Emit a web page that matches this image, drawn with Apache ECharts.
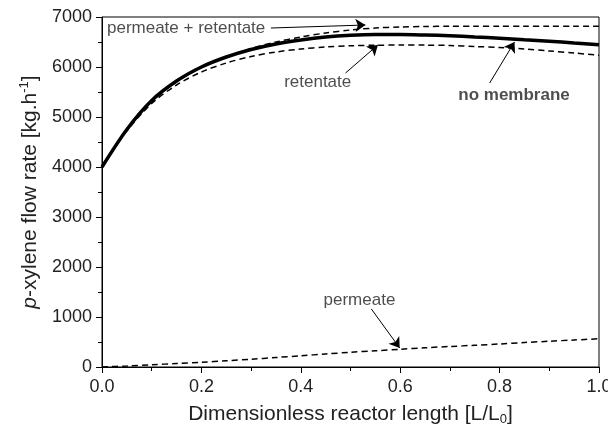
<!DOCTYPE html>
<html>
<head>
<meta charset="utf-8">
<script src="https://cdn.jsdelivr.net/npm/echarts@6/dist/echarts.min.js"></script>
<style>html,body{margin:0;padding:0;background:#fff}#c{width:608px;height:424px}</style>
</head>
<body>
<div id="c"></div>
<script>
var xs = [0, 0.05, 0.1, 0.15, 0.2, 0.25, 0.3, 0.35, 0.4, 0.45, 0.5, 0.55, 0.6, 0.65, 0.7, 0.75, 0.8, 0.85, 0.9, 0.95, 1.0];
var noMembrane = [4000, 4750, 5330, 5720, 6000, 6200, 6350, 6460, 6540, 6600, 6635, 6650, 6650, 6640, 6625, 6600, 6575, 6545, 6515, 6480, 6445];
var permRet = [4000, 4740, 5310, 5700, 5990, 6200, 6370, 6500, 6600, 6680, 6740, 6780, 6800, 6810, 6815, 6815, 6815, 6815, 6815, 6815, 6815];
var retentate = [4000, 4720, 5270, 5640, 5900, 6080, 6210, 6300, 6360, 6400, 6425, 6435, 6440, 6438, 6430, 6410, 6390, 6360, 6320, 6280, 6235];
var permeate = [0, 20, 45, 70, 95, 125, 155, 190, 225, 260, 295, 325, 355, 385, 410, 435, 460, 490, 515, 540, 565];
var xTicks = ['0.0', '0.2', '0.4', '0.6', '0.8', '1.0'];
var yTicks = ['0', '1000', '2000', '3000', '4000', '5000', '6000', '7000'];

var labels = [
  {name: 'permeate + retentate', x: 0.01, y: 6780, align: 'left', bold: false},
  {name: 'retentate', x: 0.434, y: 5700, align: 'center', bold: false},
  {name: 'no membrane', x: 0.829, y: 5440, align: 'center', bold: true},
  {name: 'permeate', x: 0.518, y: 1340, align: 'center', bold: false}
];
var arrows = [
  {from: [0.34, 6780], to: [0.53, 6840], curve: 0.05},
  {from: [0.49, 5880], to: [0.555, 6440], curve: -0.2},
  {from: [0.78, 5680], to: [0.83, 6500], curve: -0.15},
  {from: [0.542, 1160], to: [0.599, 380], curve: -0.25}
];

function pairs(ys) { return xs.map(function (x, i) { return [x, ys[i]]; }); }

var FONT = '"Liberation Sans", Arial, Helvetica, sans-serif';
var chart = echarts.init(document.getElementById('c'));
var dash = {color: '#000', width: 1.5, type: [6, 4]};

chart.setOption({
  animation: false,
  textStyle: {fontFamily: FONT, color: '#000'},
  grid: {left: 102, right: 9, top: 17, bottom: 57, show: true, borderColor: '#000', borderWidth: 1,
    containLabel: false, outerBoundsMode: 'none'},
  xAxis: {
    type: 'value', min: 0, max: 1, interval: 0.2,
    axisLine: {lineStyle: {color: '#000', width: 1}},
    axisTick: {inside: false, length: 6, lineStyle: {color: '#000'}},
    minorTick: {show: true, splitNumber: 2, length: 4, lineStyle: {color: '#000'}},
    splitLine: {show: false},
    axisLabel: {fontSize: 18, color: '#222', margin: 11, fontFamily: FONT,
      formatter: function (v) { return xTicks[Math.round(v / 0.2)]; }},
    name: '{n|Dimensionless reactor length [L/L}{sub|0}{n|]}',
    nameLocation: 'middle', nameGap: 33,
    nameTextStyle: {rich: {
      n: {fontSize: 21, fontFamily: FONT, color: '#222', lineHeight: 24},
      sub: {fontSize: 13, fontFamily: FONT, color: '#222', lineHeight: 24, verticalAlign: 'bottom', padding: [12, 0, 0, 0]}
    }}
  },
  yAxis: {
    type: 'value', min: 0, max: 7000, interval: 1000,
    axisLine: {show: true, lineStyle: {color: '#000', width: 1}},
    axisTick: {show: true, inside: false, length: 6, lineStyle: {color: '#000'}},
    minorTick: {show: true, splitNumber: 2, length: 4, lineStyle: {color: '#000'}},
    splitLine: {show: false},
    axisLabel: {fontSize: 18, color: '#222', margin: 10, fontFamily: FONT,
      formatter: function (v) { return yTicks[Math.round(v / 1000)]; }},
    name: '{i|p}{n|-xylene flow rate [kg.h}{sup|-1}{n|]}',
    nameLocation: 'middle', nameGap: 57, nameRotate: 90,
    nameTextStyle: {rich: {
      i: {fontSize: 21, fontFamily: FONT, fontStyle: 'italic', color: '#222', lineHeight: 24},
      n: {fontSize: 21, fontFamily: FONT, color: '#222', lineHeight: 24},
      sup: {fontSize: 13, fontFamily: FONT, color: '#222', lineHeight: 24, verticalAlign: 'top', padding: [0, 0, 10, 0]}
    }}
  },
  series: [
    {type: 'line', name: 'no membrane', data: pairs(noMembrane), showSymbol: false, smooth: 0.3,
      lineStyle: {color: '#000', width: 3.5}, z: 3},
    {type: 'line', name: 'permeate + retentate', data: pairs(permRet), showSymbol: false, smooth: 0.3, lineStyle: dash, z: 2},
    {type: 'line', name: 'retentate', data: pairs(retentate), showSymbol: false, smooth: 0.3, lineStyle: dash, z: 2},
    {type: 'line', name: 'permeate', data: pairs(permeate), showSymbol: false, smooth: 0.3, lineStyle: dash, z: 2,
      markLine: {
        silent: true, animation: false,
        symbol: ['none', 'arrow'], symbolSize: 10,
        itemStyle: {color: '#000'},
        lineStyle: {color: '#000', width: 1, type: 'solid'},
        label: {show: false},
        data: arrows.map(function (a) {
          return [
            {coord: a.from, lineStyle: {color: '#000', width: 1, type: 'solid', curveness: a.curve}},
            {coord: a.to}
          ];
        })
      }
    },
    {type: 'scatter', symbolSize: 0, silent: true, z: 5,
      data: labels.map(function (l) {
        return {value: [l.x, l.y], label: {show: true, position: 'inside', formatter: l.name,
          align: l.align, fontSize: 17, fontFamily: FONT, color: '#222',
          fontWeight: l.bold ? 'bold' : 'normal'}};
      })
    }
  ]
});
</script>
</body>
</html>
